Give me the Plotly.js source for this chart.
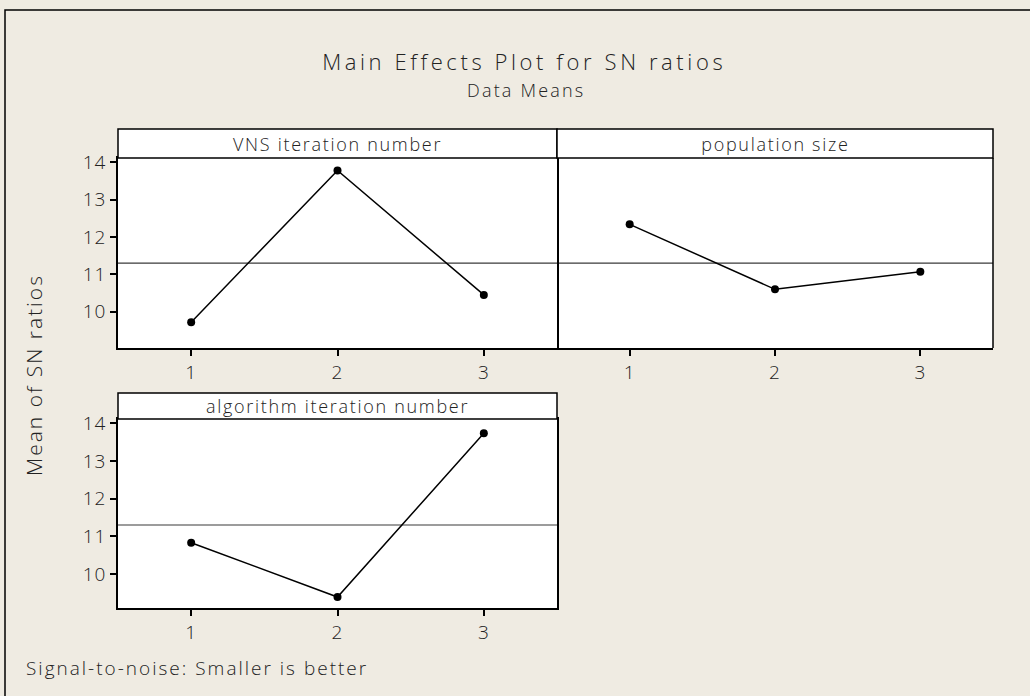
<!DOCTYPE html>
<html>
<head>
<meta charset="utf-8">
<script src="https://cdn.plot.ly/plotly-3.0.1.min.js"></script>
<style>
html,body{margin:0;padding:0;background:#efebe2;}
#chart{width:1030px;height:696px;}
.annotation[data-index="0"] .annotation-text,
.annotation[data-index="1"] .annotation-text,
.annotation[data-index="2"] .annotation-text{letter-spacing:1.7px;}
.annotation[data-index="3"] .annotation-text{letter-spacing:3.6px;}
.annotation[data-index="4"] .annotation-text{letter-spacing:2.2px;}
.annotation[data-index="5"] .annotation-text{letter-spacing:2px;}
.annotation[data-index="6"] .annotation-text{letter-spacing:2px;}
.xtick text, .ytick text, .x2tick text, .x3tick text, .y3tick text{letter-spacing:1px;}
</style>
</head>
<body>
<div id="chart"></div>
<script>
// ---- data ----
const levels = [1, 2, 3];
const tickLabels = ['1', '2', '3'];
const vnsIteration = [9.72, 13.78, 10.45];
const populationSize = [12.34, 10.60, 11.07];
const algorithmIteration = [10.83, 9.39, 13.73];
const grandMean = 11.30;
const yTicks = [10, 11, 12, 13, 14];
const factorNames = ['VNS iteration number', 'population size', 'algorithm iteration number'];

const W = 1030, H = 696;
const px = v => v / W;
const py = v => 1 - v / H;

const FONT = 'Open Sans, Lato, sans-serif';
const TXT = '#222222';

const series = [vnsIteration, populationSize, algorithmIteration];
const axSuffix = ['', '2', '3'];

const traces = series.map((vals, i) => ({
  type: 'scatter',
  mode: 'lines+markers',
  x: levels,
  y: vals,
  xaxis: 'x' + axSuffix[i],
  yaxis: 'y' + axSuffix[i],
  line: {color: '#000000', width: 1.5},
  marker: {color: '#000000', size: 8},
  hoverinfo: 'x+y',
  showlegend: false
}));

const baseX = {
  range: [0.5, 3.5],
  tickvals: levels,
  ticktext: tickLabels,
  ticks: 'outside',
  ticklen: 6,
  tickwidth: 1.5,
  tickcolor: '#000',
  showline: true,
  mirror: true,
  linecolor: '#000',
  linewidth: 1.5,
  showgrid: false,
  zeroline: false,
  tickfont: {family: FONT, size: 19, color: TXT, weight: 300},
  fixedrange: true
};
const baseY = {
  tickvals: yTicks,
  ticks: 'outside',
  ticklen: 6,
  tickwidth: 1.5,
  tickcolor: '#000',
  showline: true,
  mirror: true,
  linecolor: '#000',
  linewidth: 1.5,
  showgrid: false,
  zeroline: false,
  tickfont: {family: FONT, size: 19, color: TXT, weight: 300},
  fixedrange: true
};

const topDom = [py(348), py(158)];
const botDom = [py(608), py(419)];
const leftDom = [px(118), px(557)];
const rightDom = [px(557), px(993)];

const layout = {
  width: W, height: H,
  margin: {l: 0, r: 0, t: 0, b: 0},
  paper_bgcolor: '#efebe2',
  plot_bgcolor: '#ffffff',
  showlegend: false,
  xaxis: Object.assign({}, baseX, {domain: leftDom, anchor: 'y'}),
  yaxis: Object.assign({}, baseY, {domain: topDom, anchor: 'x', range: [9.03, 14.115]}),
  xaxis2: Object.assign({}, baseX, {domain: rightDom, anchor: 'y2'}),
  yaxis2: Object.assign({}, baseY, {domain: topDom, anchor: 'x2', range: [9.03, 14.115], showticklabels: false, ticks: '', showline: false, mirror: false}),
  xaxis3: Object.assign({}, baseX, {domain: leftDom, anchor: 'y3'}),
  yaxis3: Object.assign({}, baseY, {domain: botDom, anchor: 'x3', range: [9.10, 14.11]}),
  shapes: [],
  annotations: []
};

// right border of the right-hand panel
layout.shapes.push({
  type: 'line', xref: 'x2 domain', yref: 'y2 domain',
  x0: 1, x1: 1, y0: 0, y1: 1,
  line: {color: '#000', width: 1.5}
});

// grand-mean reference lines
axSuffix.forEach(s => {
  layout.shapes.push({
    type: 'line', xref: 'x' + s + ' domain', yref: 'y' + s,
    x0: 0, x1: 1, y0: grandMean, y1: grandMean,
    line: {color: '#3a3a3a', width: 1.2}, layer: 'below'
  });
});

// strip boxes with factor names
const strips = [
  {x: leftDom, y: [py(158), py(129)], name: factorNames[0]},
  {x: rightDom, y: [py(158), py(129)], name: factorNames[1]},
  {x: leftDom, y: [py(419), py(393)], name: factorNames[2]}
];
strips.forEach(s => {
  layout.shapes.push({
    type: 'rect', xref: 'paper', yref: 'paper',
    x0: s.x[0], x1: s.x[1], y0: s.y[0], y1: s.y[1],
    fillcolor: '#ffffff', line: {color: '#000', width: 1.5}
  });
  layout.annotations.push({
    xref: 'paper', yref: 'paper',
    x: (s.x[0] + s.x[1]) / 2, y: (s.y[0] + s.y[1]) / 2,
    text: s.name, showarrow: false, xanchor: 'center', yanchor: 'middle',
    font: {family: FONT, size: 18, color: TXT, weight: 300}
  });
});

// outer frame
layout.shapes.push({
  type: 'rect', xref: 'paper', yref: 'paper',
  x0: px(5), x1: 1.02, y0: -0.02, y1: py(10),
  line: {color: '#000', width: 1.5}, fillcolor: 'rgba(0,0,0,0)', layer: 'below'
});

// titles and notes
layout.annotations.push(
  {xref: 'paper', yref: 'paper', x: px(524), y: py(61), text: 'Main Effects Plot for SN ratios',
   showarrow: false, xanchor: 'center', yanchor: 'middle', font: {family: FONT, size: 22, color: TXT, weight: 300}},
  {xref: 'paper', yref: 'paper', x: px(526), y: py(90), text: 'Data Means',
   showarrow: false, xanchor: 'center', yanchor: 'middle', font: {family: FONT, size: 18, color: TXT, weight: 300}},
  {xref: 'paper', yref: 'paper', x: px(34), y: py(375), text: 'Mean of SN ratios', textangle: -90,
   showarrow: false, xanchor: 'center', yanchor: 'middle', font: {family: FONT, size: 21, color: TXT, weight: 300}},
  {xref: 'paper', yref: 'paper', x: px(197), y: py(668), text: 'Signal-to-noise: Smaller is better',
   showarrow: false, xanchor: 'center', yanchor: 'middle', font: {family: FONT, size: 19, color: TXT, weight: 300}}
);

Plotly.newPlot('chart', traces, layout, {displayModeBar: false});
</script>
</body>
</html>
